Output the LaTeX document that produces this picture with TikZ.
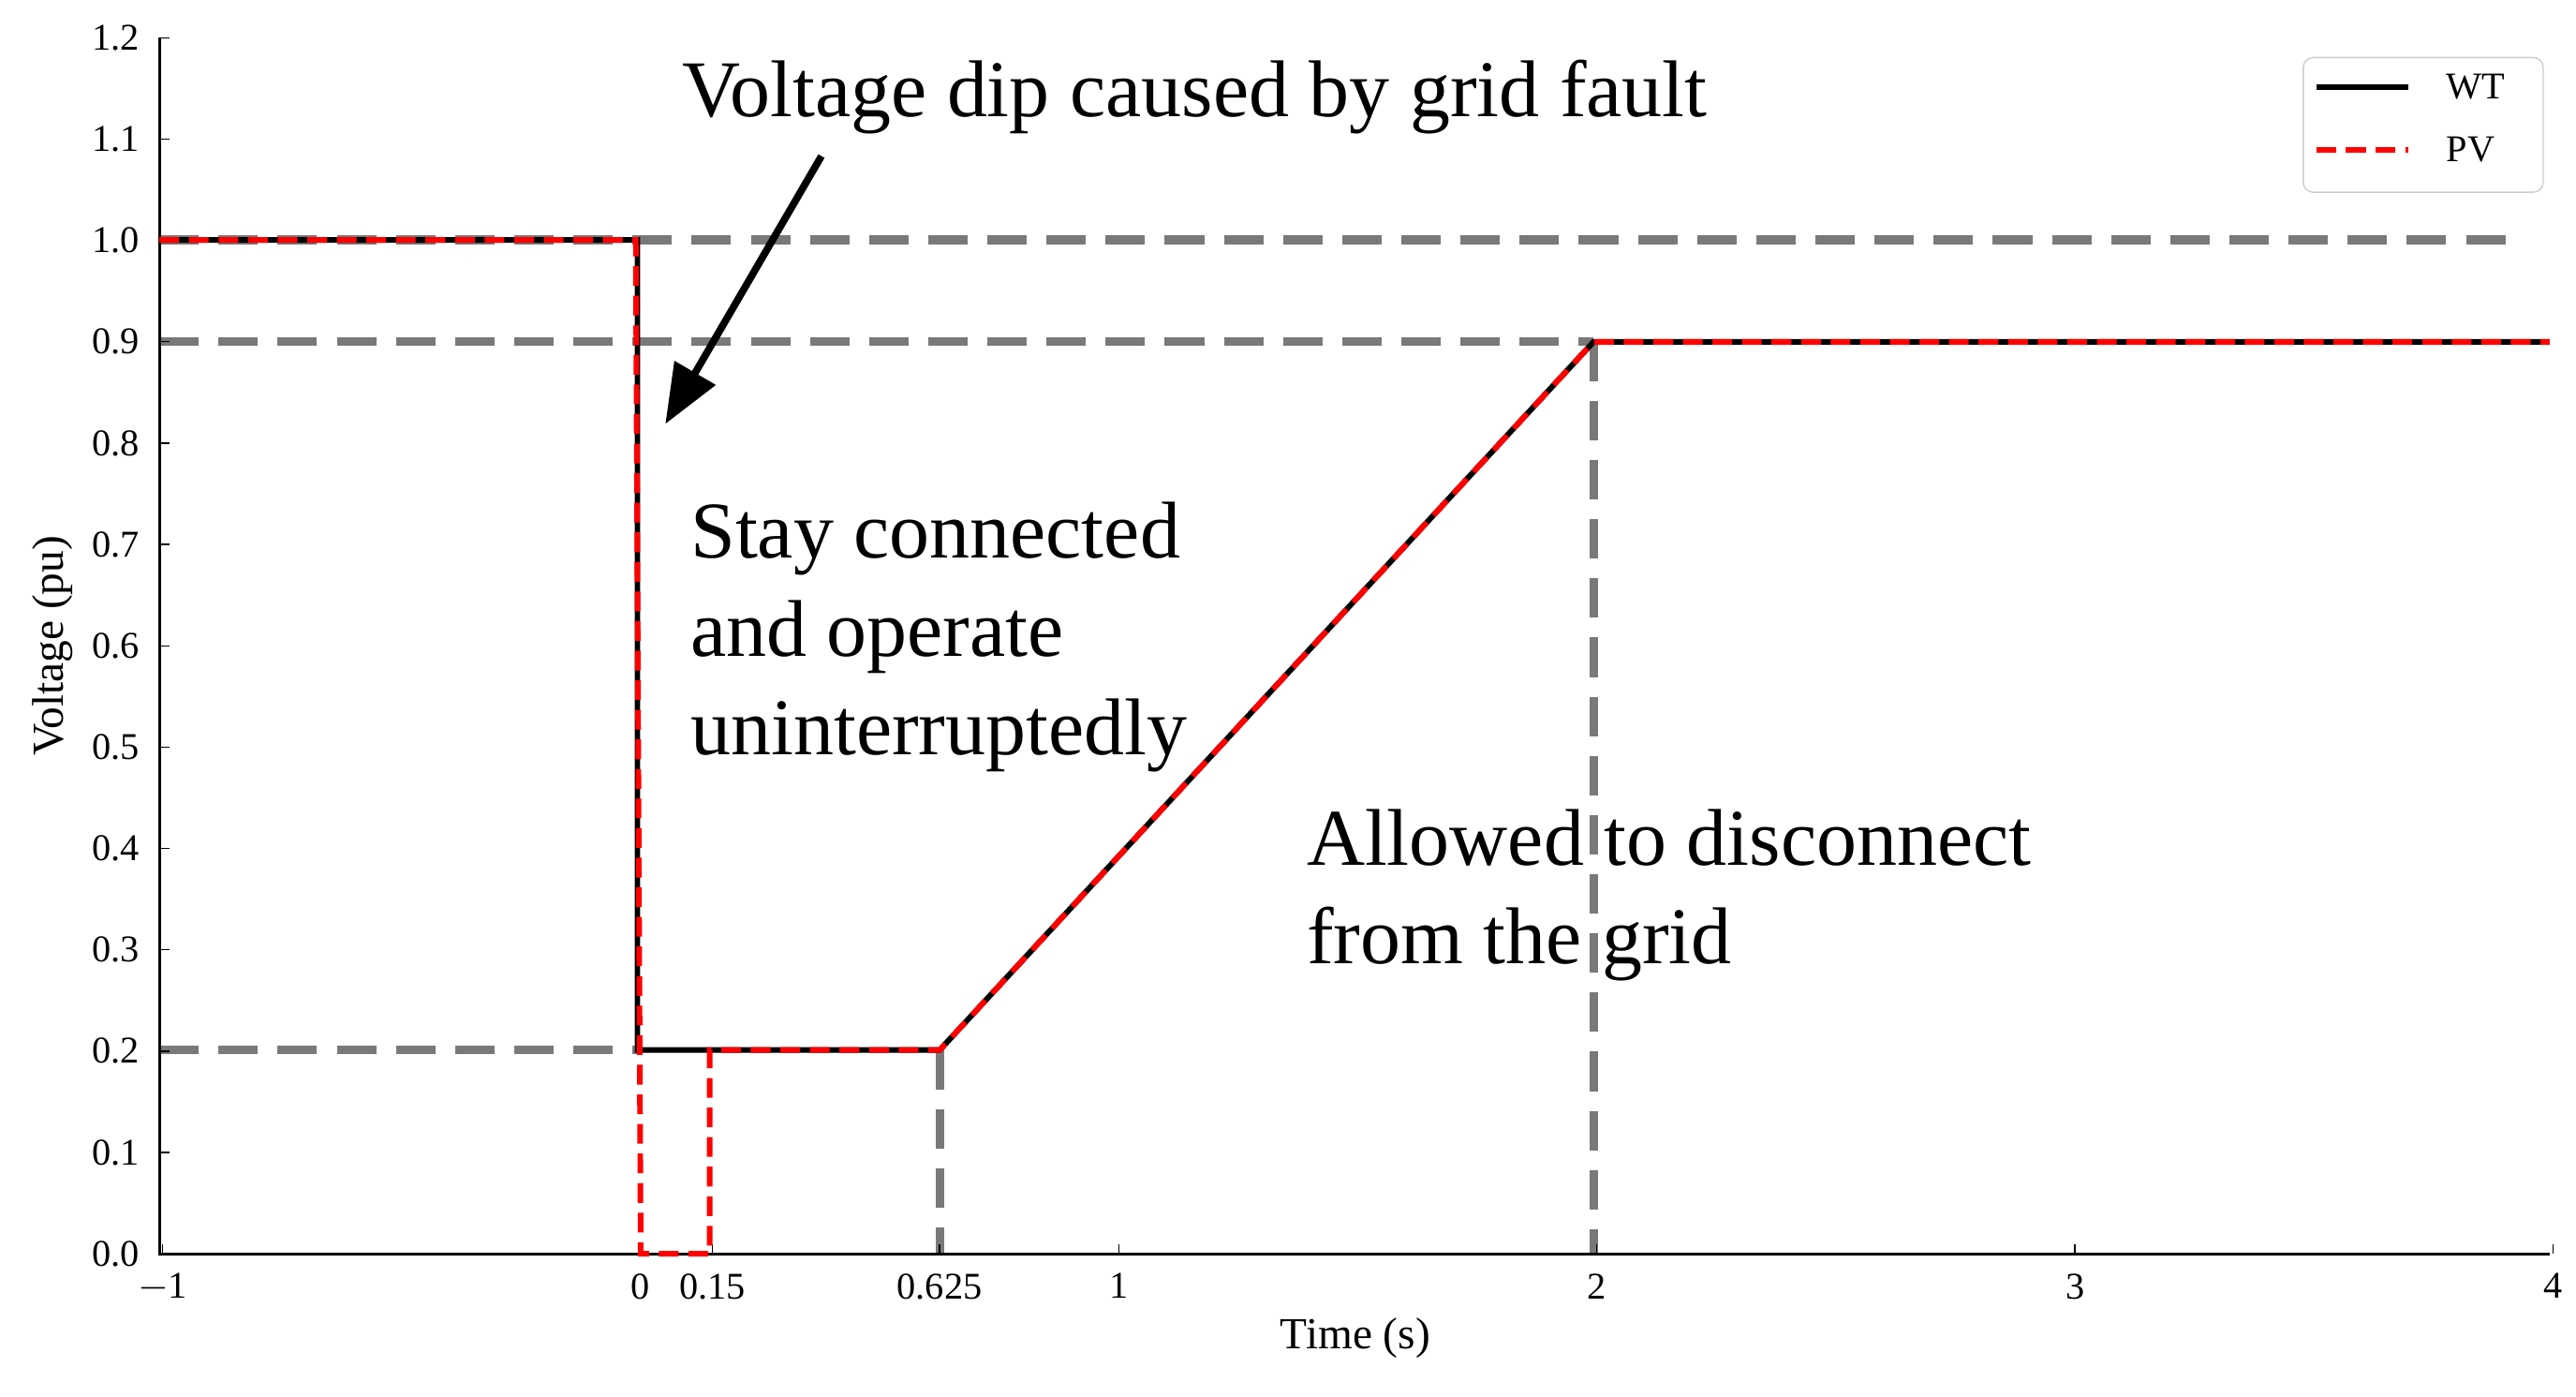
\documentclass[tikz,border=0pt]{standalone}
\usepackage{fontspec}
\setmainfont{Liberation Serif}
\usetikzlibrary{arrows.meta}
\begin{document}
\begin{tikzpicture}[x=0.5pt,y=-0.5pt,
  grid/.style={gray!95!black,line width=2.6pt,dash pattern=on 12pt off 6pt},
  wt/.style={black,line width=1.7pt},
  pv/.style={red,line width=1.7pt,dash pattern=on 6pt off 3pt},
  tick/.style={font=\fontsize{11.5}{12}\selectfont},
  big/.style={font=\fontsize{24.5}{30}\selectfont,align=left,anchor=north west,inner sep=0pt}]
\useasboundingbox (0,0) rectangle (1568,850);
% grid guide lines
\draw[grid] (97,146) -- (1535,146);
\draw[grid] (97,208) -- (970,208);
\draw[grid] (97,639) -- (390,639);
\draw[grid] (572,639) -- (572,763);
\draw[grid] (970,208) -- (970,763);
% axes
\draw[line width=0.8pt] (97,23) -- (97,763) -- (1552,763);
\foreach \v/\l in {0/0.0,1/0.1,2/0.2,3/0.3,4/0.4,5/0.5,6/0.6,7/0.7,8/0.8,9/0.9,10/1.0,11/1.1,12/1.2}{
  \pgfmathsetmacro{\yy}{763-61.67*\v}
  \draw (97,\yy) -- (103,\yy);
  \node[tick,anchor=east] (yl\v) at (92,\yy) {\l};}
\foreach \t/\l/\n in {-1/$-$1/a,0/0/b,0.15/0.15/c,0.625/0.625/d,1/1/e,2/2/f,3/3/g,4/4/h}{
  \pgfmathsetmacro{\xx}{390+291*\t}
  \draw (\xx,763) -- (\xx,757);
  \node[tick,anchor=north] (xl\n) at (\xx,768) {\l};}
\node[font=\fontsize{13.5}{14}\selectfont] (xlab) at (825,814) {Time (s)};
\node[font=\fontsize{13.5}{14}\selectfont,rotate=90] (ylab) at (32,393) {Voltage (pu)};
% curves
\draw[wt] (97,146) -- (388,146) -- (388,639) -- (572,639) -- (970,208) -- (1552,208);
\draw[pv] (97,146) -- (387,146) -- (390,763) -- (432,763) -- (432,639) -- (572,639) -- (970,208) -- (1552,208);
% annotations
\node[big] (dip) at (415,36) {Voltage dip caused by grid fault};
\coordinate (as) at (500,95);
\coordinate (ae) at (405,258);
\draw[line width=2.2pt,-{Triangle[length=18pt,width=14pt]}] (as) -- (ae);
\node[big] (stay) at (420,305) {Stay connected\\and operate\\uninterruptedly};
\node[big] (allow) at (795,492) {Allowed to disconnect\\from the grid};
% legend
\draw[gray!40,rounded corners=3pt] (1402,35) rectangle (1548,117);
\draw[wt] (1410,53) -- (1466,53);
\draw[pv] (1410,91) -- (1466,91);
\node[tick,anchor=west] (lwt) at (1482,53) {WT};
\node[tick,anchor=west] (lpv) at (1482,91) {PV};
\end{tikzpicture}
\end{document}
